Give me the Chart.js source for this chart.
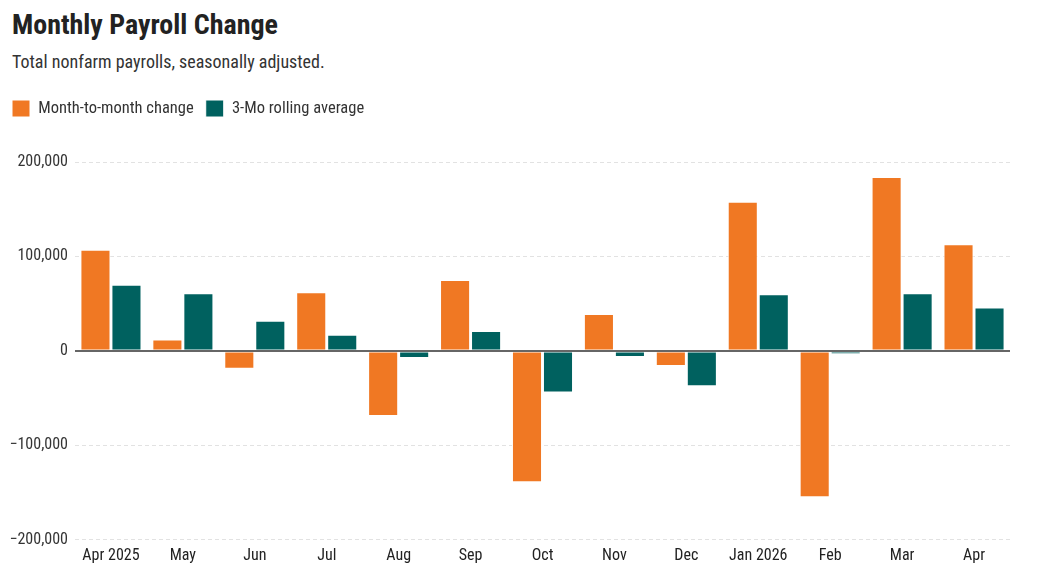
<!DOCTYPE html>
<html>
<head>
<meta charset="utf-8">
<script src="https://cdn.jsdelivr.net/npm/chart.js@4.4.1/dist/chart.umd.min.js"></script>
<style>
  html, body { margin: 0; padding: 0; background: #fff; }
  body { width: 1047px; height: 578px; position: relative; overflow: hidden;
         font-family: 'Roboto Condensed', 'Roboto', sans-serif; }
  #title { position: absolute; left: 12px; top: 7px; font-size: 28px; font-weight: 700; color: #222; line-height: 36px; white-space: nowrap; }
  #subtitle { position: absolute; left: 12px; top: 50px; font-size: 18px; color: #333; line-height: 24px; white-space: nowrap; }
  #wrap { position: absolute; left: 0; top: 0; width: 1047px; height: 578px; }
</style>
</head>
<body>
<div id="title">Monthly Payroll Change</div>
<div id="subtitle">Total nonfarm payrolls, seasonally adjusted.</div>
<div id="wrap"><canvas id="c"></canvas></div>
<script>
const categories = ["Apr 2025", "May", "Jun", "Jul", "Aug", "Sep", "Oct", "Nov", "Dec", "Jan 2026", "Feb", "Mar", "Apr"];
const monthlyChange = [107000, 12000, -19000, 62000, -69000, 75000, -139000, 39000, -16000, 158000, -155000, 184000, 113000];
const rollingAverage = [70000, 61000, 32000, 17000, -7500, 21000, -44000, -6500, -37500, 60000, -3500, 61000, 46000];
const yTicks = [-200000, -100000, 0, 100000, 200000];
const seriesNames = ["Month-to-month change", "3-Mo rolling average"];

Chart.defaults.font.family = "'Roboto Condensed', 'Roboto', sans-serif";

const legendSpacer = {
  id: 'legendSpacer',
  beforeInit(chart) {
    const orig = chart.legend.fit;
    chart.legend.fit = function () { orig.call(this); this.height += 35; };
  }
};
const zeroLine = {
  id: 'zeroLine',
  afterDatasetsDraw(chart) {
    const y = chart.scales.y.getPixelForValue(0);
    const a = chart.chartArea;
    const ctx = chart.ctx;
    ctx.save();
    ctx.strokeStyle = '#666';
    ctx.lineWidth = 2;
    ctx.beginPath();
    ctx.moveTo(a.left, y);
    ctx.lineTo(a.right, y);
    ctx.stroke();
    ctx.restore();
  }
};

new Chart(document.getElementById('c'), {
  type: 'bar',
  data: {
    labels: categories,
    datasets: [
      { label: seriesNames[0], data: monthlyChange, backgroundColor: '#F07823', borderColor: '#ffffff', borderWidth: 1, borderSkipped: false },
      { label: seriesNames[1], data: rollingAverage, backgroundColor: '#00615F', borderColor: '#ffffff', borderWidth: 1, borderSkipped: false }
    ]
  },
  options: {
    responsive: true,
    maintainAspectRatio: false,
    animation: false,
    categoryPercentage: 0.862,
    barPercentage: 0.97,
    layout: { padding: { left: 0, right: 37, top: 88, bottom: 5 } },
    plugins: {
      legend: {
        position: 'top',
        align: 'start',
        labels: {
          boxWidth: 18, boxHeight: 17, padding: 12,
          color: '#333', font: { size: 16.5 }
        }
      },
      tooltip: { enabled: false }
    },
    scales: {
      x: {
        grid: { display: false, drawTicks: false },
        border: { display: false },
        ticks: { color: '#222', font: { size: 16 }, padding: 7, maxRotation: 0, autoSkip: false }
      },
      y: {
        min: -200000,
        max: 200000,
        afterBuildTicks(scale) { scale.ticks = yTicks.map(v => ({ value: v })); },
        afterFit(scale) { scale.width = 75; },
        grid: {
          drawTicks: false,
          color: ctx => (ctx.tick && ctx.tick.value === 0) ? 'rgba(0,0,0,0)' : '#e2e2e2',
          lineWidth: 1
        },
        border: { display: false, dash: [4, 3] },
        ticks: {
          color: '#333', font: { size: 16 }, padding: 7,
          callback: v => (v < 0 ? '\u2212' : '') + Math.abs(v).toLocaleString('en-US')
        }
      }
    }
  },
  plugins: [legendSpacer, zeroLine]
});
</script>
</body>
</html>
